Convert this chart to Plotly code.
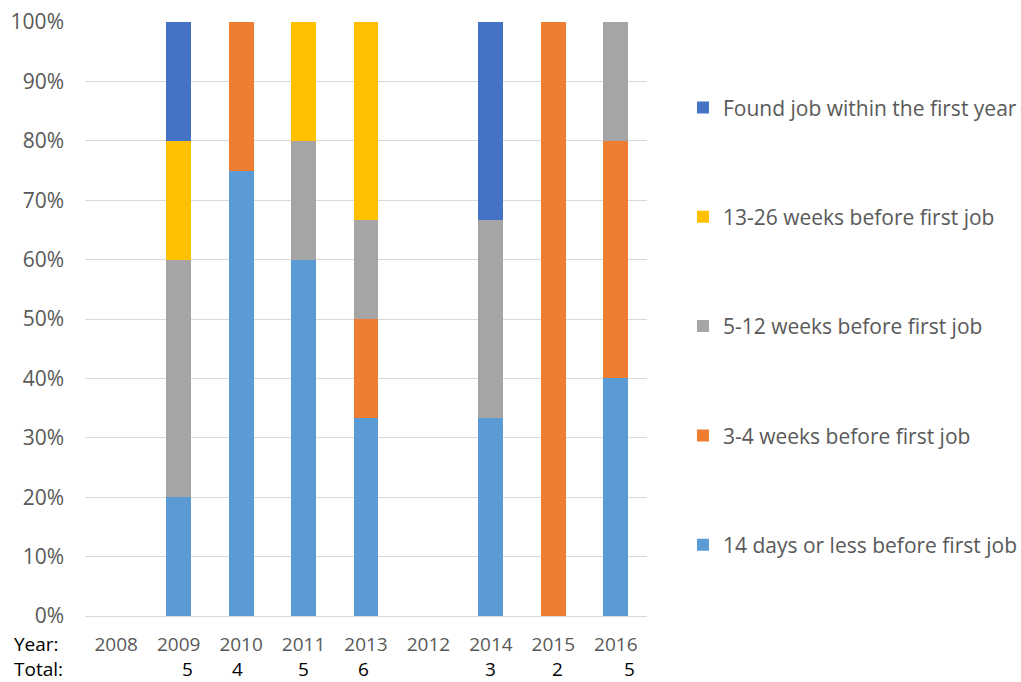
import plotly.graph_objects as go

# Categories in the order shown on the chart
years = ["2008", "2009", "2010", "2011", "2013", "2012", "2014", "2015", "2016"]
totals = [None, 5, 4, 5, 6, None, 3, 2, 5]

# Counts per category (normalised to percent by barnorm)
days_14 = [0, 1, 3, 3, 2, 0, 1, 0, 2]
weeks_3_4 = [0, 0, 1, 0, 1, 0, 0, 2, 2]
weeks_5_12 = [0, 2, 0, 1, 1, 0, 1, 0, 1]
weeks_13_26 = [0, 1, 0, 1, 2, 0, 0, 0, 0]
first_year = [0, 1, 0, 0, 0, 0, 1, 0, 0]

series = [
    ("14 days or less before first job", days_14, "#5B9BD5"),
    ("3-4 weeks before first job", weeks_3_4, "#ED7D31"),
    ("5-12 weeks before first job", weeks_5_12, "#A5A5A5"),
    ("13-26 weeks before first job", weeks_13_26, "#FFC000"),
    ("Found job within the first year", first_year, "#4472C4"),
]

FONT = "Open Sans, Liberation Sans, sans-serif"
FS = 21      # axis / legend text
FS_ROW = 19  # year / total rows under the axis

# small horizontal nudges of the total numbers, as in the source sheet
total_nudge = [0, 9, -4, 0, -3, 0, 0, 4, 14]

fig = go.Figure()
for i, (name, vals, color) in enumerate(series):
    fig.add_trace(go.Bar(
        x=years,
        y=vals,
        name=name,
        legendgroup=name,
        legendrank=len(series) - i,  # top-most stack segment first in legend
        marker=dict(color=color, line=dict(width=0)),
    ))

# Totals row under the year labels (x = category index)
for idx, tot in enumerate(totals):
    if tot is None:
        continue
    fig.add_annotation(
        x=idx, y=0, xref="x", yref="paper", yanchor="middle",
        xshift=total_nudge[idx], yshift=-53, text=str(tot), showarrow=False,
        font=dict(family=FONT, size=FS_ROW, color="#000000"),
    )

for label, dy in [("Year:", -28), ("Total:", -53)]:
    fig.add_annotation(x=0, y=0, xref="paper", yref="paper",
                       xanchor="left", yanchor="middle",
                       xshift=-73, yshift=dy, text=label, showarrow=False,
                       font=dict(family=FONT, size=FS_ROW, color="#000000"))

fig.update_layout(
    barmode="stack",
    barnorm="percent",
    bargap=0.6,
    width=1021,
    height=682,
    margin=dict(l=85, r=374, t=22, b=66, autoexpand=False),
    plot_bgcolor="white",
    paper_bgcolor="white",
    font=dict(family=FONT, size=FS, color="#595959"),
    xaxis=dict(
        type="category",
        range=[-0.5, len(years) - 0.5],
        showline=True, linecolor="#D9D9D9", linewidth=1,
        ticks="", showgrid=False, ticklabelstandoff=11,
        automargin=False,
        tickfont=dict(size=FS_ROW, color="#595959"),
    ),
    yaxis=dict(
        range=[0, 100], dtick=10, ticksuffix="%",
        showgrid=True, gridcolor="#D9D9D9", gridwidth=1,
        zeroline=False, ticks="", ticklabelstandoff=20,
        automargin=False,
        tickfont=dict(size=FS, color="#595959"),
    ),
    legend=dict(
        x=1.064, y=0.890, xanchor="left", yanchor="top",
        traceorder="grouped",
        tracegroupgap=79,
        font=dict(size=FS, color="#595959"),
        bgcolor="rgba(0,0,0,0)",
    ),
    showlegend=True,
)

fig.write_html("out.html", config={"displayModeBar": False},
               post_script="document.body.style.margin='0';")
